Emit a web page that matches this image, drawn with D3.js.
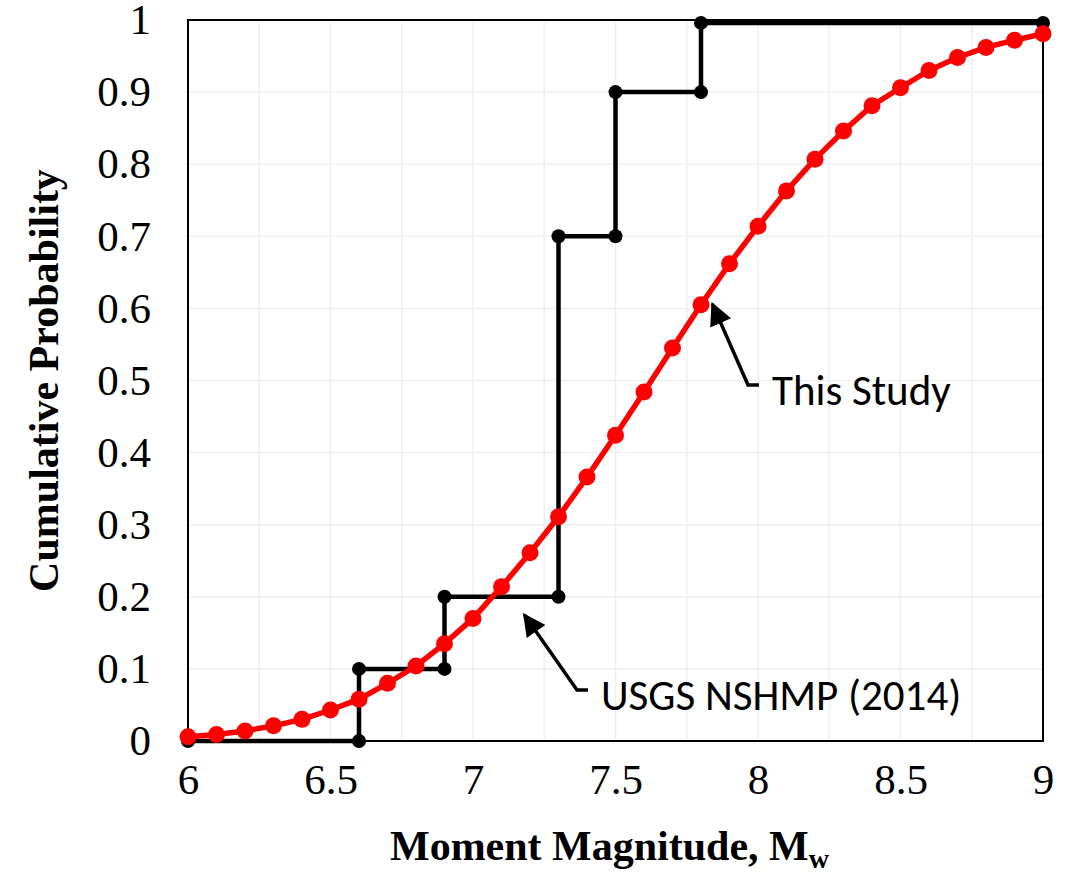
<!DOCTYPE html>
<html>
<head>
<meta charset="utf-8">
<script src="https://cdn.jsdelivr.net/npm/d3@7"></script>
<style>
  body { margin: 0; background: #fff; }
  svg { display: block; }
</style>
</head>
<body>
<div id="chart"></div>
<script>
// This Study - smooth cumulative curve, one point every 0.1 Mw
var studyMw = [6.0, 6.1, 6.2, 6.3, 6.4, 6.5, 6.6, 6.7, 6.8, 6.9, 7.0,
               7.1, 7.2, 7.3, 7.4, 7.5, 7.6, 7.7, 7.8, 7.9, 8.0,
               8.1, 8.2, 8.3, 8.4, 8.5, 8.6, 8.7, 8.8, 8.9, 9.0];
var studyProb = [0.006, 0.009, 0.014, 0.021, 0.030, 0.043, 0.058, 0.080, 0.104, 0.135, 0.170,
                 0.214, 0.261, 0.311, 0.366, 0.424, 0.484, 0.545, 0.605, 0.662, 0.714,
                 0.763, 0.807, 0.846, 0.881, 0.906, 0.930, 0.948, 0.962, 0.972, 0.981];

// USGS NSHMP (2014) - step function
var usgsMw = [6.0, 6.6, 6.6, 6.9, 6.9, 7.3, 7.3, 7.5, 7.5, 7.8, 7.8, 9.0];
var usgsProb = [0, 0, 0.1, 0.1, 0.2, 0.2, 0.7, 0.7, 0.9, 0.9, 0.996, 0.996];

var xTicks = [6, 6.5, 7, 7.5, 8, 8.5, 9];
var yTicks = [0, 0.1, 0.2, 0.3, 0.4, 0.5, 0.6, 0.7, 0.8, 0.9, 1];

var W = 1069, H = 873;
var margin = {left: 188, right: 26, top: 20, bottom: 132};

var svg = d3.select("#chart").append("svg")
    .attr("width", W)
    .attr("height", H);

var x = d3.scaleLinear().domain([6, 9]).range([margin.left, W - margin.right]);
var y = d3.scaleLinear().domain([0, 1]).range([H - margin.bottom, margin.top]);

// gridlines
svg.append("g")
    .selectAll("line")
    .data(d3.range(6.25, 9, 0.25))
    .enter().append("line")
    .attr("x1", function(d){ return x(d); })
    .attr("x2", function(d){ return x(d); })
    .attr("y1", y(0)).attr("y2", y(1))
    .attr("stroke", "#efefef").attr("stroke-width", 1.5);
svg.append("g")
    .selectAll("line")
    .data(yTicks.slice(1, -1))
    .enter().append("line")
    .attr("y1", function(d){ return y(d); })
    .attr("y2", function(d){ return y(d); })
    .attr("x1", x(6)).attr("x2", x(9))
    .attr("stroke", "#efefef").attr("stroke-width", 1.5);

// frame
svg.append("rect")
    .attr("x", x(6)).attr("y", y(1))
    .attr("width", x(9) - x(6)).attr("height", y(0) - y(1))
    .attr("fill", "none").attr("stroke", "#000").attr("stroke-width", 2);

// axes (labels only)
var xAxis = d3.axisBottom(x).tickValues(xTicks).tickSize(0).tickPadding(22)
    .tickFormat(d3.format("~g"));
svg.append("g")
    .attr("class", "axis")
    .attr("transform", "translate(0," + y(0) + ")")
    .call(xAxis)
    .call(function(g){ g.select(".domain").remove(); });

var yAxis = d3.axisLeft(y).tickValues(yTicks).tickSize(0).tickPadding(37)
    .tickFormat(d3.format("~g"));
svg.append("g")
    .attr("class", "axis")
    .attr("transform", "translate(" + x(6) + ",0)")
    .call(yAxis)
    .call(function(g){ g.select(".domain").remove(); });

svg.selectAll(".axis text")
    .attr("font-family", "'Liberation Serif', 'Times New Roman', serif")
    .attr("font-size", 43)
    .attr("fill", "#000");

var line = d3.line()
    .x(function(d){ return x(d[0]); })
    .y(function(d){ return y(d[1]); });

// USGS step
var usgs = usgsMw.map(function(m, i){ return [m, usgsProb[i]]; });
svg.append("path")
    .attr("d", line(usgs))
    .attr("fill", "none").attr("stroke", "#000").attr("stroke-width", 4.5)
    .attr("stroke-linejoin", "miter");
svg.append("g").selectAll("circle")
    .data(usgs)
    .enter().append("circle")
    .attr("cx", function(d){ return x(d[0]); })
    .attr("cy", function(d){ return y(d[1]); })
    .attr("r", 7)
    .attr("fill", "#000");

// This Study
var study = studyMw.map(function(m, i){ return [m, studyProb[i]]; });
svg.append("path")
    .attr("d", line(study))
    .attr("fill", "none").attr("stroke", "#ff0000").attr("stroke-width", 5.5);
svg.append("g").selectAll("circle")
    .data(study)
    .enter().append("circle")
    .attr("cx", function(d){ return x(d[0]); })
    .attr("cy", function(d){ return y(d[1]); })
    .attr("r", 8.5)
    .attr("fill", "#ff0000");

// annotations
svg.append("defs").append("marker")
    .attr("id", "arrow")
    .attr("viewBox", "0 0 10 10")
    .attr("refX", 9).attr("refY", 5)
    .attr("markerWidth", 7.5).attr("markerHeight", 6.5)
    .attr("markerUnits", "strokeWidth")
    .attr("orient", "auto")
    .append("path")
    .attr("d", "M0,0 L10,5 L0,10 z")
    .attr("fill", "#000");

function annotate(pt, mid, text) {
    svg.append("path")
        .attr("d", "M" + (mid[0] + 11) + "," + mid[1] + " L" + mid[0] + "," + mid[1] +
            " L" + x(pt[0]) + "," + y(pt[1]))
        .attr("fill", "none").attr("stroke", "#000").attr("stroke-width", 3.5)
        .attr("marker-end", "url(#arrow)");
    svg.append("text")
        .attr("x", mid[0] + 24).attr("y", mid[1] + 20)
        .attr("font-family", "Carlito, Lato, 'Open Sans', sans-serif")
        .attr("font-size", 43)
        .attr("fill", "#000")
        .text(text);
}
annotate([7.84, 0.606], [748, 385], "This Study");
annotate([7.18, 0.175], [577, 690], "USGS NSHMP (2014)");

// axis titles
var xt = svg.append("text")
    .attr("x", (x(6) + x(9)) / 2 - 6).attr("y", 860)
    .attr("text-anchor", "middle")
    .attr("font-family", "'Liberation Serif', 'Times New Roman', serif")
    .attr("font-weight", "bold").attr("font-size", 42)
    .text("Moment Magnitude, M");
xt.append("tspan").attr("dy", 8).attr("font-size", 28).text("w");

svg.append("text")
    .attr("transform", "translate(58," + ((y(0) + y(1)) / 2) + ") rotate(-90)")
    .attr("text-anchor", "middle")
    .attr("font-family", "'Liberation Serif', 'Times New Roman', serif")
    .attr("font-weight", "bold").attr("font-size", 42)
    .text("Cumulative Probability");
</script>
</body>
</html>
